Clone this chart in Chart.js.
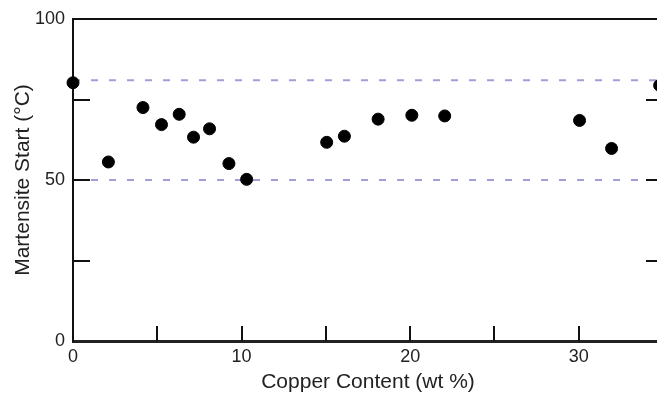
<!DOCTYPE html>
<html>
<head>
<meta charset="utf-8">
<script src="https://cdn.jsdelivr.net/npm/chart.js@4/dist/chart.umd.min.js"></script>
<style>
    html, body { margin: 0; padding: 0; background: #fff; overflow: hidden; }
    #wrap { width: 657px; height: 396px; overflow: hidden; }
</style>
</head>
<body>
<div id="wrap"><canvas id="chart" width="680" height="396"></canvas></div>
<script>
// copper content (wt %) and martensite start temperature (°C)
const copper = [0, 2.1, 4.15, 5.25, 6.3, 7.15, 8.1, 9.25, 10.3, 15.05, 16.1, 18.1, 20.1, 22.05, 30.05, 31.95, 34.8];
const msTemp = [80.2, 55.6, 72.5, 67.2, 70.4, 63.3, 65.9, 55.1, 50.2, 61.7, 63.6, 68.9, 70.1, 69.9, 68.5, 59.8, 79.4];

// dashed reference levels
const refLevels = [81, 50];

const xTicks = [0, 5, 10, 15, 20, 25, 30, 35];
const yTicks = [0, 25, 50, 75, 100];

const fontFamily = "'Liberation Sans', Arial, Helvetica, sans-serif";

const points = copper.map((c, i) => ({ x: c, y: msTemp[i] }));

const refDatasets = refLevels.map(v => ({
    type: 'line',
    data: [{ x: xTicks[0], y: v }, { x: xTicks[xTicks.length - 1], y: v }],
    borderColor: '#a0a0d8',
    borderWidth: 2,
    borderDash: [7, 11],
    pointRadius: 0,
    fill: false,
    order: 2
}));

// inward tick marks, top border and right axis
const frame = {
    id: 'frame',
    afterDatasetsDraw(chart) {
        const { ctx, chartArea: a, scales: { x, y } } = chart;
        ctx.save();
        ctx.strokeStyle = '#111';
        ctx.lineWidth = 2;
        ctx.beginPath();
        ctx.moveTo(a.left, a.top);
        ctx.lineTo(a.right, a.top);
        ctx.moveTo(a.right, a.top);
        ctx.lineTo(a.right, a.bottom);
        yTicks.slice(1, -1).forEach(v => {
            const py = Math.round(y.getPixelForValue(v));
            ctx.moveTo(a.left, py);
            ctx.lineTo(a.left + 17, py);
            ctx.moveTo(a.right, py);
            ctx.lineTo(a.right - 17, py);
        });
        xTicks.slice(1, -1).forEach(v => {
            const px = Math.round(x.getPixelForValue(v));
            ctx.moveTo(px, a.bottom);
            ctx.lineTo(px, a.bottom - 15);
        });
        ctx.stroke();
        ctx.restore();
    }
};

new Chart(document.getElementById('chart'), {
    type: 'scatter',
    data: {
        datasets: [{
            data: points,
            backgroundColor: '#000',
            borderColor: '#000',
            pointRadius: 6,
            pointHoverRadius: 6,
            clip: false,
            order: 1
        }, ...refDatasets]
    },
    options: {
        responsive: false,
        animation: false,
        events: [],
        layout: { padding: { top: 19, right: 17, left: 0, bottom: 0 } },
        plugins: { legend: { display: false }, tooltip: { enabled: false } },
        scales: {
            x: {
                type: 'linear',
                min: 0,
                max: 35,
                afterFit: s => { s.height = 55; },
                afterBuildTicks: s => { s.ticks = xTicks.map(v => ({ value: v })); },
                grid: { display: false, drawTicks: false },
                border: { display: true, color: '#222', width: 3 },
                ticks: {
                    padding: 5,
                    color: '#222',
                    font: { family: fontFamily, size: 18 },
                    callback: v => (v % 10 === 0 ? v : '')
                },
                title: {
                    display: true,
                    text: 'Copper Content (wt %)',
                    color: '#222',
                    font: { family: fontFamily, size: 21 },
                    padding: { top: 0, bottom: 1 }
                }
            },
            y: {
                type: 'linear',
                min: 0,
                max: 100,
                afterFit: s => { s.width = 73; },
                afterBuildTicks: s => { s.ticks = yTicks.map(v => ({ value: v })); },
                grid: { display: false, drawTicks: false },
                border: { display: true, color: '#111', width: 2 },
                ticks: {
                    padding: 8,
                    color: '#222',
                    font: { family: fontFamily, size: 18 },
                    callback: v => (v % 50 === 0 ? v : '')
                },
                title: {
                    display: true,
                    text: 'Martensite Start (°C)',
                    color: '#222',
                    font: { family: fontFamily, size: 21 },
                    padding: { top: 11, bottom: 0 }
                }
            }
        }
    },
    plugins: [frame]
});
</script>
</body>
</html>
